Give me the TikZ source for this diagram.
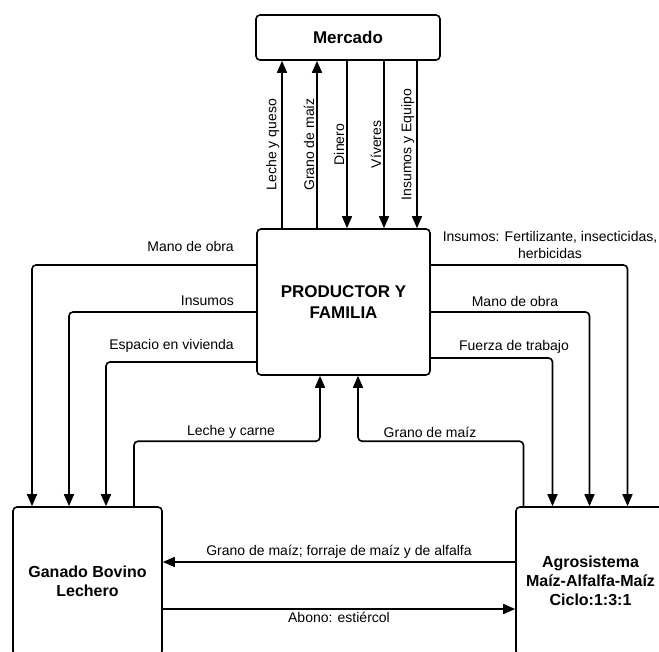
\documentclass[tikz,border=0pt]{standalone}
\usepackage{fontspec}
\setmainfont{Liberation Sans}
\usetikzlibrary{arrows.meta}

\begin{document}
\begin{tikzpicture}[
  x=1pt, y=1pt,
  font=\fontsize{14}{16}\selectfont,
  box/.style={draw, rounded corners=4pt, line width=1.6pt, inner sep=0pt, align=center,
              font=\fontsize{16}{19}\selectfont\bfseries},
  arr/.style={-{Triangle[length=12pt, width=10pt]}, line width=1.6pt, rounded corners=4pt},
  lab/.style={inner sep=1pt, align=center},
  vlab/.style={lab, rotate=90, anchor=south, inner sep=2pt}
]
\useasboundingbox (0,0) rectangle (659,-652);

% ================= boxes =================
\node[box, minimum width=184pt, minimum height=45pt, font=\fontsize{17}{20}\selectfont\bfseries]
  (merc) at (348,-37.5) {Mercado};
\node[box, minimum width=173pt, minimum height=146pt, font=\fontsize{17}{21}\selectfont\bfseries]
  (prod) at (343.5,-302) {PRODUCTOR Y\\FAMILIA};
\node[box, minimum width=149pt, minimum height=148pt] (gan) at (87.5,-581) {Ganado Bovino\\Lechero};
\node[box, minimum width=149pt, minimum height=148pt] (agro) at (590.5,-581)
  {Agrosistema\\Maíz-Alfalfa-Maíz\\Ciclo:1:3:1};

% ================= productor <-> mercado =================
\draw[arr] ([xshift=-61.5pt]prod.north) -- node[vlab] {Leche y queso} ([xshift=-61.5pt]prod.north |- merc.south);
\draw[arr] ([xshift=-26.5pt]prod.north) -- node[vlab] {Grano de maíz} ([xshift=-26.5pt]prod.north |- merc.south);
\draw[arr] ([xshift=3.5pt]prod.north |- merc.south) -- node[vlab] {Dinero} ([xshift=3.5pt]prod.north);
\draw[arr] ([xshift=40.5pt]prod.north |- merc.south) -- node[vlab] {Víveres} ([xshift=40.5pt]prod.north);
\draw[arr] ([xshift=73.5pt]prod.north |- merc.south) -- node[vlab] {Insumos y Equipo} ([xshift=73.5pt]prod.north);

% ================= productor -> ganado =================
\draw[arr] ([yshift=37pt]prod.west) -| ([xshift=-55.5pt]gan.north);
\draw[arr] ([yshift=-10pt]prod.west) -| ([xshift=-18.5pt]gan.north);
\draw[arr] ([yshift=-60pt]prod.west) -| ([xshift=18.5pt]gan.north);
\node[lab, anchor=east] (lmo) at (235,-246) {Mano de obra};
\node[lab, anchor=east] (lins) at (235,-301) {Insumos};
\node[lab, anchor=east] (lesp) at (235,-346) {Espacio en vivienda};

% ================= productor -> agrosistema =================
\draw[arr] ([yshift=37pt]prod.east) -| ([xshift=37pt]agro.north);
\draw[arr] ([yshift=-10pt]prod.east) -| ([xshift=-1pt]agro.north);
\draw[arr] ([yshift=-56pt]prod.east) -| ([xshift=-38pt]agro.north);
\node[lab, font=\fontsize{14}{17}\selectfont] (rins) at (550,-245) {Insumos: Fertilizante, insecticidas,\\herbicidas};
\node[lab] (rmo) at (515,-301) {Mano de obra};
\node[lab] (rfz) at (514,-347) {Fuerza de trabajo};

% ================= back to productor =================
\draw[arr] ([xshift=46.5pt]gan.north) -- ++(0,65) -| ([xshift=-23.5pt]prod.south);
\draw[arr] ([xshift=-67pt]agro.north) -- ++(0,65) -| ([xshift=14.5pt]prod.south);
\node[lab] (llc) at (231,-432) {Leche y carne};
\node[lab] (lgm) at (430,-432) {Grano de maíz};

% ================= ganado <-> agrosistema =================
\draw[arr] ([yshift=19pt]agro.west) -- node[lab, above=2pt] {Grano de maíz; forraje de maíz y de alfalfa}
  ([yshift=19pt]agro.west -| gan.east);
\draw[arr] ([yshift=-28pt]gan.east) -- node[lab, below=1pt] {Abono: estiércol}
  ([yshift=-28pt]gan.east -| agro.west);

\end{tikzpicture}
\end{document}
